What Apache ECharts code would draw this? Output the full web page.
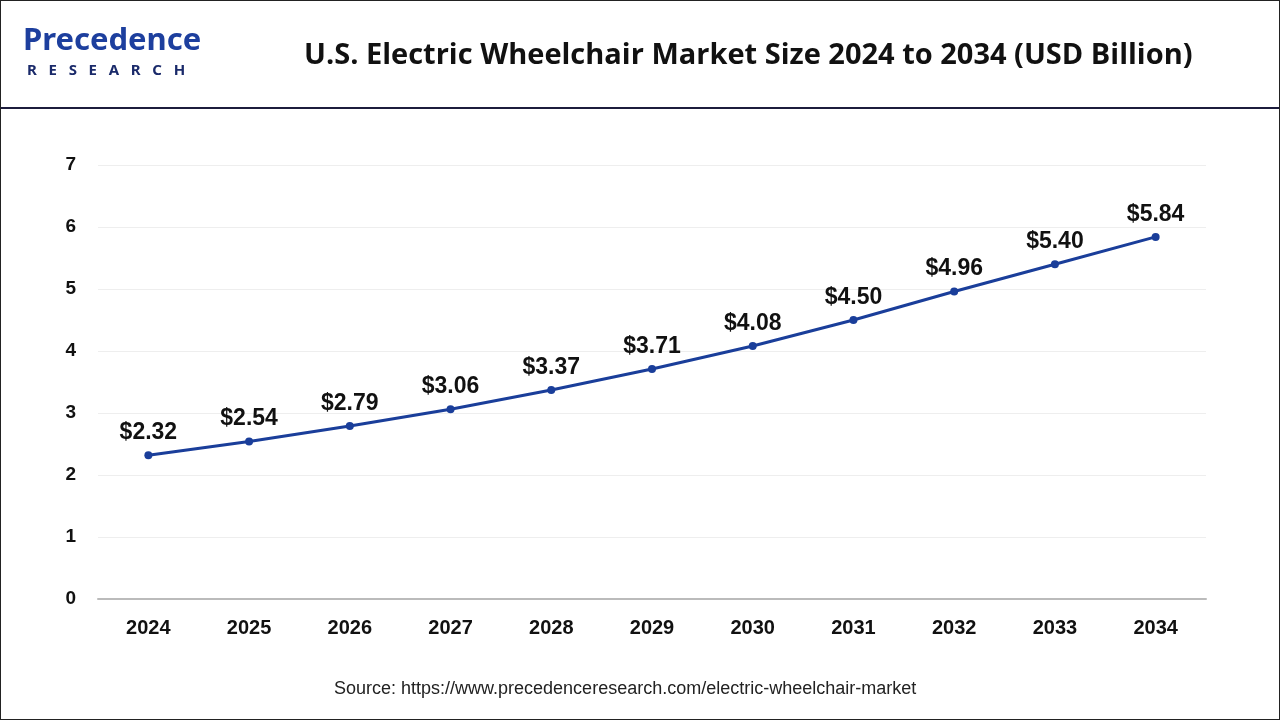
<!DOCTYPE html>
<html lang="en">
<head>
    <meta charset="UTF-8">
    <title>U.S. Electric Wheelchair Market Size</title>
    <style>
        body {
            margin: 0px;
            padding: 0px;
        }

        #chart {
            width: 1280px;
            height: 720px;
            box-sizing: border-box;
            border: 1px solid #222;
            position: relative;
        }
    </style>
</head>
<body>
    <div id="chart"></div>
    <script src="https://cdn.jsdelivr.net/npm/echarts@6/dist/echarts.min.js"></script>
    <script>
        var years = ['2024', '2025', '2026', '2027', '2028', '2029', '2030', '2031', '2032', '2033', '2034'];
        var marketSize = [2.32, 2.54, 2.79, 3.06, 3.37, 3.71, 4.08, 4.50, 4.96, 5.40, 5.84];
        var yTicks = [0, 1, 2, 3, 4, 5, 6, 7];

        var titleText = 'U.S. Electric Wheelchair Market Size 2024 to 2034 (USD Billion)';
        var sourceText = 'Source: https://www.precedenceresearch.com/electric-wheelchair-market';

        var myChart = echarts.init(document.getElementById('chart'));

        var option = {
            backgroundColor: '#fff',
            animation: false,
            title: {
                text: titleText,
                left: 298,
                top: 35,
                textStyle: {
                    fontFamily: 'Open Sans',
                    fontWeight: 'bold',
                    fontSize: 29,
                    color: '#111'
                }
            },
            graphic: [
                {
                    type: 'line',
                    shape: { x1: 0, y1: 107, x2: 1280, y2: 107 },
                    style: { stroke: '#1c1c3c', lineWidth: 2 }
                },
                {
                    type: 'text',
                    left: 22,
                    top: 25,
                    style: {
                        text: 'Precedence',
                        font: 'bold 31px "Noto Sans"',
                        fill: '#1d3f9e'
                    }
                },
                {
                    type: 'text',
                    left: 26,
                    top: 62,
                    style: {
                        text: 'R   E   S   E   A   R   C   H',
                        font: 'bold 15px "Noto Sans"',
                        fill: '#1a2a6a'
                    }
                },
                {
                    type: 'text',
                    left: 333,
                    top: 679,
                    style: {
                        text: sourceText,
                        font: '18px "Liberation Sans"',
                        fill: '#222'
                    }
                }
            ],
            grid: {
                left: 97,
                right: 73,
                top: 164,
                bottom: 120
            },
            xAxis: {
                type: 'category',
                data: years,
                boundaryGap: true,
                axisLine: { lineStyle: { color: '#bbbbbb', width: 2 } },
                axisTick: { show: false },
                axisLabel: {
                    margin: 19,
                    fontFamily: 'Liberation Sans',
                    fontWeight: 'bold',
                    fontSize: 20,
                    color: '#111'
                }
            },
            yAxis: {
                type: 'value',
                min: yTicks[0],
                max: yTicks[yTicks.length - 1],
                interval: 1,
                axisLine: { show: false },
                axisTick: { show: false },
                splitLine: { lineStyle: { color: '#eeeeee', width: 1 } },
                axisLabel: {
                    margin: 22,
                    fontFamily: 'Liberation Sans',
                    fontWeight: 'bold',
                    fontSize: 19,
                    color: '#111'
                }
            },
            series: [
                {
                    type: 'line',
                    data: marketSize,
                    symbol: 'circle',
                    symbolSize: 8,
                    lineStyle: { color: '#1a3e9a', width: 3 },
                    itemStyle: { color: '#1a3e9a' },
                    label: {
                        show: true,
                        position: 'top',
                        distance: 7,
                        formatter: function (p) { return '$' + p.value.toFixed(2); },
                        fontFamily: 'Liberation Sans',
                        fontWeight: 'bold',
                        fontSize: 23,
                        color: '#111'
                    }
                }
            ]
        };

        myChart.setOption(option);
    </script>
</body>
</html>
